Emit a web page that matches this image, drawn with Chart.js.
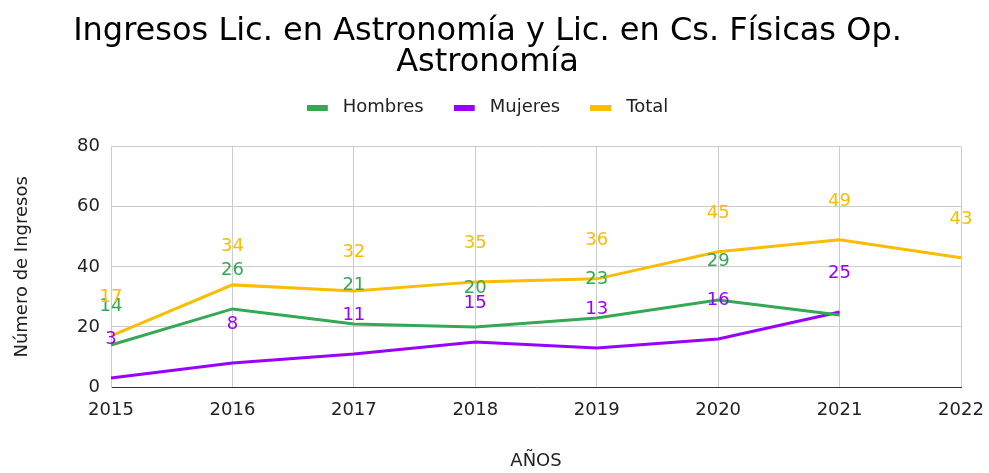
<!DOCTYPE html>
<html>
<head>
<meta charset="utf-8">
<script src="https://cdn.jsdelivr.net/npm/chart.js@4"></script>
<style>
  html, body { margin: 0; padding: 0; background: #fff; }
  #wrap { width: 989px; height: 473px; }
</style>
</head>
<body>
<div id="wrap"><canvas id="chart" width="989" height="473"></canvas></div>
<script>
var
    years    = ['2015', '2016', '2017', '2018', '2019', '2020', '2021', '2022']
  , hombres  = [14, 26, 21, 20, 23, 29, 24, null]
  , mujeres  = [3, 8, 11, 15, 13, 16, 25, null]
  , total    = [17, 34, 32, 35, 36, 45, 49, 43]
  , yTicks   = [0, 20, 40, 60, 80]

var
    FONT   = "'DejaVu Sans', 'Liberation Sans', Arial, sans-serif"
  , GREEN  = '#34a853'
  , PURPLE = '#9900ff'
  , YELLOW = '#fbbc04'

// labels hidden by the original (overlapping) -> [datasetIndex, pointIndex]
var hiddenLabels = [[0, 6]]

var valueLabels = {
    id: 'valueLabels'
  , afterDatasetsDraw: function (chart) {
      var ctx = chart.ctx
      ctx.save()
      ctx.font = '18px ' + FONT
      ctx.textAlign = 'center'
      ctx.textBaseline = 'middle'
      chart.data.datasets.forEach(function (ds, di) {
        var meta = chart.getDatasetMeta(di)
        meta.data.forEach(function (pt, i) {
          var v = ds.data[i]
          if (v === null) return
          for (var h = 0; h < hiddenLabels.length; h++)
            if (hiddenLabels[h][0] === di && hiddenLabels[h][1] === i) return
          ctx.fillStyle = ds.borderColor
          ctx.fillText(String(v), pt.x, pt.y - 39)
        })
      })
      ctx.restore()
  }
}

// extra room between legend and plot
var legendGap = {
    id: 'legendGap'
  , beforeInit: function (chart) {
      var fit = chart.legend.fit
      chart.legend.fit = function () {
        fit.bind(chart.legend)()
        this.height += 20
      }
  }
}

// legend swatch: 21x6 bar with a little transparent room after it
var swatch = function (color) {
  var c = document.createElement('canvas')
  c.width = 27
  c.height = 6
  var g = c.getContext('2d')
  g.fillStyle = color
  g.fillRect(0, 0, 21, 6)
  return c
}

var line = function (label, data, color) {
  return {
      label           : label
    , data            : data
    , borderColor     : color
    , backgroundColor : color
    , borderWidth     : 3
    , pointRadius     : 0
    , pointStyle      : swatch(color)
    , tension         : 0
    , spanGaps        : false
  }
}

new Chart(document.getElementById('chart'), {
    type: 'line'
  , data: {
        labels   : years
      , datasets : [
            line('Hombres', hombres, GREEN)
          , line('Mujeres', mujeres, PURPLE)
          , line('Total', total, YELLOW)
        ]
    }
  , plugins: [valueLabels, legendGap]
  , options: {
        responsive : false
      , animation  : false
      , layout     : { padding: { left: 0, right: 14, top: 0, bottom: 0 } }
      , plugins: {
            title: {
                display : true
              , text    : ['Ingresos Lic. en Astronomía y Lic. en Cs. Físicas Op.', 'Astronomía']
              , color   : '#000'
              , font    : { family: FONT, size: 32, weight: 'normal', lineHeight: 0.98 }
              , padding : { top: 16, bottom: -10 }
            }
          , legend: {
                position : 'top'
              , align    : 'center'
              , labels   : {
                    color           : '#222'
                  , font            : { family: FONT, size: 18 }
                  , usePointStyle   : true
                  , pointStyleWidth : 27
                  , boxHeight       : 6
                  , padding         : 30
                }
            }
          , tooltip: { enabled: false }
        }
      , scales: {
            x: {
                offset : false
              , grid   : { color: '#cccccc', lineWidth: 1, drawTicks: false }
              , border : { color: '#333333', width: 1 }
              , ticks  : { color: '#222', font: { family: FONT, size: 18 }, padding: 13, maxRotation: 0 }
              , title  : { display: true, text: 'AÑOS', color: '#222', font: { family: FONT, size: 18 }, padding: { top: 24, bottom: 1 } }
              , afterFit: function (scale) {
                  scale.height = 86
                  scale.paddingRight = 0
              }
            }
          , y: {
                min    : 0
              , max    : 80
              , grid   : { color: '#cccccc', lineWidth: 1, drawTicks: false }
              , border : { color: '#cccccc', width: 1 }
              , ticks  : {
                    color    : '#222'
                  , font     : { family: FONT, size: 18 }
                  , padding  : 11
                  , stepSize : 20
                }
              , afterBuildTicks: function (scale) {
                  scale.ticks = yTicks.map(function (v) { return { value: v } })
              }
              , title  : { display: true, text: 'Número de Ingresos', color: '#222', font: { family: FONT, size: 18 }, padding: { top: 12, bottom: 0 } }
              , afterFit: function (scale) { scale.width = 111 }
            }
          , yPad: {
                position : 'right'
              , display  : true
              , grid     : { display: false }
              , border   : { display: false }
              , ticks    : { display: false }
              , afterFit : function (scale) { scale.width = 14 }
            }
        }
    }
})
</script>
</body>
</html>
